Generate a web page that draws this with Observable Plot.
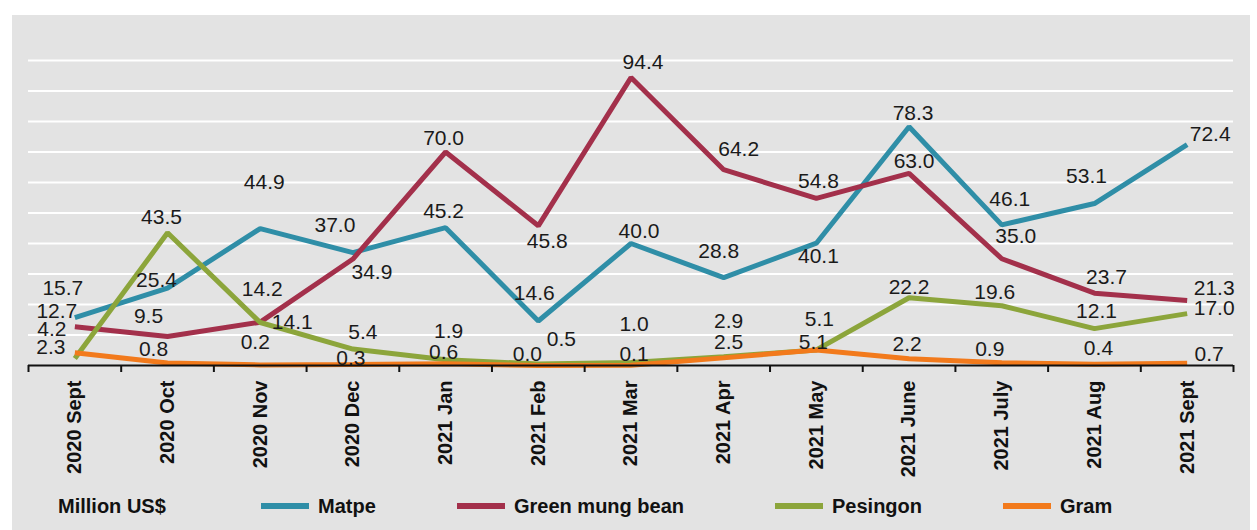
<!DOCTYPE html>
<html>
<head>
<meta charset="utf-8">
<script src="https://cdn.jsdelivr.net/npm/d3@7"></script>
<script src="https://cdn.jsdelivr.net/npm/@observablehq/plot@0.6"></script>
<style>
  html, body { margin: 0; padding: 0; background: #ffffff; }
  body { width: 1257px; height: 530px; overflow: hidden; font-family: "Liberation Sans", Arial, sans-serif; }
  #panel { position: absolute; left: 12px; top: 15px; width: 1238px; height: 515px; background: #e3e3e3; }
  #chart { position: absolute; left: 0; top: 0; }
  .leg { position: absolute; top: 478px; height: 26px; display: flex; align-items: center; font-weight: bold; font-size: 20px; color: #111; white-space: nowrap; }
  .sw { display: inline-block; width: 48px; height: 6px; margin-right: 9px; }
</style>
</head>
<body>
<div id="panel">
  <div id="chart"></div>
  <div class="leg" style="left:46px">Million US$</div>
  <div class="leg" style="left:249px"><span class="sw" style="background:#2f8ea7"></span>Matpe</div>
  <div class="leg" style="left:445px"><span class="sw" style="background:#a3304b"></span>Green mung bean</div>
  <div class="leg" style="left:763px"><span class="sw" style="background:#8ca53b"></span>Pesingon</div>
  <div class="leg" style="left:991px"><span class="sw" style="background:#f27a1c"></span>Gram</div>
</div>
<script>
// ---- data ----
const months = ["2020 Sept","2020 Oct","2020 Nov","2020 Dec","2021 Jan","2021 Feb","2021 Mar","2021 Apr","2021 May","2021 June","2021 July","2021 Aug","2021 Sept"];
const matpe    = [15.7, 25.4, 44.9, 37.0, 45.2, 14.6, 40.0, 28.8, 40.1, 78.3, 46.1, 53.1, 72.4];
const mungBean = [12.7, 9.5, 14.2, 34.9, 70.0, 45.8, 94.4, 64.2, 54.8, 63.0, 35.0, 23.7, 21.3];
const pesingon = [2.3, 43.5, 14.1, 5.4, 1.9, 0.5, 1.0, 2.9, 5.1, 22.2, 19.6, 12.1, 17.0];
const gram     = [4.2, 0.8, 0.2, 0.3, 0.6, 0.0, 0.1, 2.5, 5.1, 2.2, 0.9, 0.4, 0.7];
const gridTicks = [10, 20, 30, 40, 50, 60, 70, 80, 90, 100];

// ---- label nudges (pixels, relative to each point) ----
const matpeDx = [-12, -11, 4, -18, -2, -4, 8, -5, 2, 4, 8, -8, 23];
const matpeDy = [-29, -8, -46, -27, -16, -28, -12, -26, 13, -13, -26, -27, -10];
const mungDx  = [-18, -19, 2, 19, -2, 9, 12, 15, 2, 5, 14, 12, 27];
const mungDy  = [-15, -20, -33, 13, -14, 15, -15, -20, -17, -12, -22, -16, -12];
const pesDx   = [-24, -6, 32, 10, 3, 23, 3, 5, 3, 0, -7, 2, 27];
const pesDy   = [-11, -16, 0, -17, -28, -25, -38, -35, -31, -11, -13, -17, -5];
const gramDx  = [-23, -14, -5, -2, -2, -11, 3, 5, -3, -2, -12, 4, 22];
const gramDy  = [-23, -14, -23, -6, -11, -11, -11, -16, -8, -15, -13, -16, -9];

const series = [
  {name: "Matpe", values: matpe, color: "#2f8ea7", dx: matpeDx, dy: matpeDy},
  {name: "Green mung bean", values: mungBean, color: "#a3304b", dx: mungDx, dy: mungDy},
  {name: "Pesingon", values: pesingon, color: "#8ca53b", dx: pesDx, dy: pesDy},
  {name: "Gram", values: gram, color: "#f27a1c", dx: gramDx, dy: gramDy}
];

const fmt = d3.format(".1f");
const idx = d3.range(months.length);
const edges = d3.range(months.length + 1).map(i => i - 0.5);

const lineMarks = series.map(s =>
  Plot.line(idx.map(i => ({i, v: s.values[i]})), {
    x: "i", y: "v", stroke: s.color, strokeWidth: 5, strokeLinejoin: "miter", strokeLinecap: "butt"
  })
);

const labelMarks = series.flatMap(s =>
  idx.map(i => Plot.text([{i, v: s.values[i]}], {
    x: "i", y: "v", text: d => fmt(d.v), dx: s.dx[i], dy: s.dy[i],
    fontSize: 21, fill: "#1a1a1a"
  }))
);

const chart = Plot.plot({
  width: 1238,
  height: 470,
  marginLeft: 16,
  marginRight: 17,
  marginTop: 45,
  marginBottom: 120,
  style: {background: "transparent", fontFamily: "'Liberation Sans', Arial, sans-serif", overflow: "visible"},
  x: {domain: [-0.5, months.length - 0.5], axis: null, label: null},
  y: {domain: [0, 100], axis: null},
  marks: [
    Plot.ruleY(gridTicks, {stroke: "#ffffff", strokeWidth: 2}),
    ...lineMarks,
    Plot.ruleY([0], {stroke: "#111111", strokeWidth: 2}),
    Plot.axisX(edges, {tickSize: 7, tickFormat: () => "", stroke: "#111111", strokeWidth: 2, label: null}),
    Plot.axisX(idx, {
      tickSize: 0, tickPadding: 15, tickRotate: -90,
      tickFormat: i => months[i], fontSize: 20, fontWeight: "bold", fill: "#111111", label: null
    }),
    ...labelMarks
  ]
});
document.getElementById("chart").appendChild(chart);
</script>
</body>
</html>
